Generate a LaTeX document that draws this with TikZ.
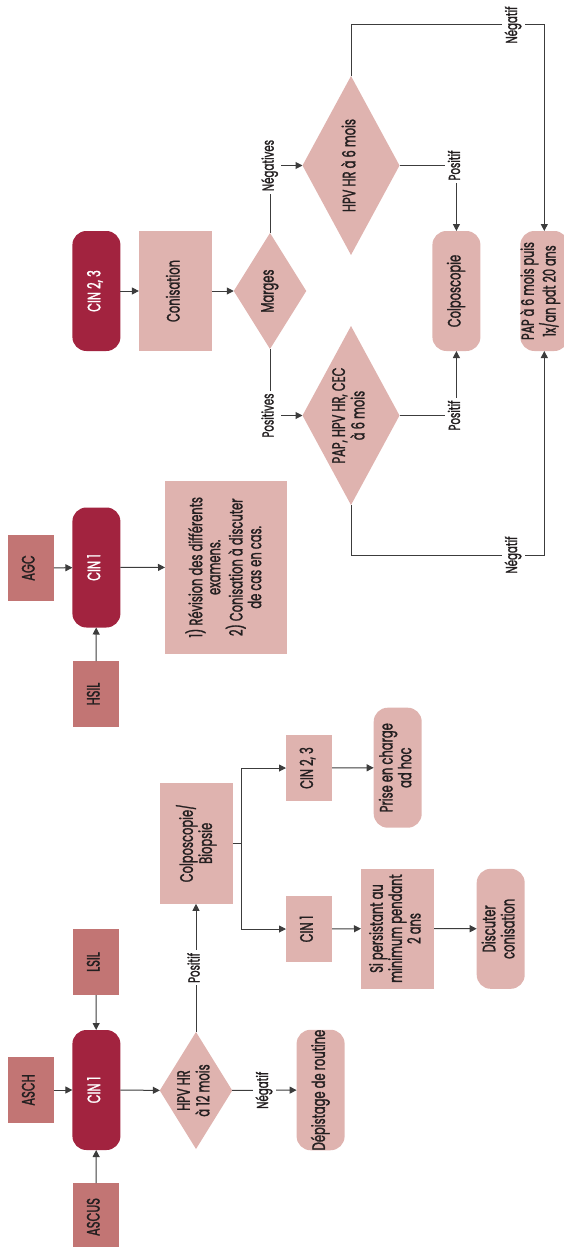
\documentclass[tikz,border=0pt]{standalone}
\usepackage{fontspec}
\setmainfont{Poppins}[FakeStretch=0.64, FakeBold=1.4]
\usetikzlibrary{shapes.geometric,arrows.meta}
\definecolor{cinred}{HTML}{A2233F}
\definecolor{pinkbox}{HTML}{DFB3AF}
\definecolor{rosebox}{HTML}{C27574}
\definecolor{linegray}{HTML}{3C3C3C}
\definecolor{txtdark}{HTML}{231F20}
\newcommand{\vt}[1]{\rotatebox{90}{\begin{tabular}{@{}c@{}}#1\end{tabular}}}
\tikzset{
  base/.style={inner sep=0pt, outer sep=0pt, text=txtdark,
    font=\fontsize{18}{18}\selectfont},
  darkbox/.style={base, rectangle, rounded corners=14pt, fill=cinred, text=white,
    minimum width=48, minimum height=120},
  rosesq/.style={base, rectangle, fill=rosebox, minimum width=46, minimum height=66},
  pinksq/.style={base, rectangle, fill=pinkbox},
  pinkround/.style={base, rectangle, rounded corners=14pt, fill=pinkbox,
    minimum width=48, minimum height=120},
  decision/.style={base, diamond, fill=pinkbox},
  dtext/.style={base},
  arr/.style={draw=linegray, line width=1pt, -{Triangle[length=7pt,width=7pt]}},
  lbl/.style={fill=white, inner sep=2.5pt, text=txtdark,
    font=\fontsize{16}{17}\selectfont}
}
\begin{document}
\begin{tikzpicture}[x=1pt, y=-1pt]
\useasboundingbox (0,0) rectangle (563,1247);

% ---------- ASCUS / ASCH / LSIL pathway ----------
\node[rosesq] (asch) at (30.9,1090) {\vt{ASCH}};
\node[darkbox] (cinA) at (96.4,1090) {\vt{CIN 1}};
\node[rosesq] (lsil) at (95.9,962) {\vt{LSIL}};
\node[rosesq, minimum height=68] (ascus) at (95.9,1217) {\vt{ASCUS}};
\node[decision, minimum width=72.5, minimum height=117] (hpv12) at (196,1090.5) {};
\node[dtext] (hpv12t) at (hpv12) {\vt{HPV HR\\ à 12 mois}};
\node[pinkround] (depist) at (320.6,1090) {\vt{Dépistage de routine}};
\node[pinksq, minimum width=73, minimum height=121] (colbio) at (196.6,843.3) {\vt{Colposcopie/\\Biopsie}};
\node[pinksq, minimum width=46, minimum height=66] (cin23s) at (309,768) {\vt{CIN 2, 3}};
\node[pinksq, minimum width=46, minimum height=66] (cin1s) at (309,929) {\vt{CIN 1}};
\node[pinkround] (prise) at (397.7,767.7) {\vt{Prise en charge\\ ad hoc}};
\node[pinksq, minimum width=73, minimum height=120] (sipers) at (397.5,928.5) {\vt{Si persistant au\\ minimum pendant\\ 2 ans}};
\node[pinkround] (discut) at (500.7,928.8) {\vt{Discuter\\ conisation}};

\draw[arr] (asch) -- (cinA);
\draw[arr] (lsil) -- (cinA);
\draw[arr] (ascus) -- (cinA);
\draw[arr] (cinA) -- (hpv12);
\draw[arr] (hpv12) -- node[lbl] {\vt{Négatif}} (depist);
\draw[arr] (hpv12.north) -- node[lbl] {\vt{Positif}} (hpv12.north |- colbio.south);
\draw[arr] (colbio.east) -- ++(8,0) |- (cin23s.west);
\draw[arr] (colbio.east) -- ++(8,0) |- (cin1s.west);
\draw[arr] (cin23s) -- (prise);
\draw[arr] (cin1s) -- (sipers);
\draw[arr] (sipers) -- (discut);

% ---------- AGC / HSIL pathway ----------
\node[rosesq] (agc) at (30.9,568) {\vt{AGC}};
\node[darkbox] (cinB) at (96.4,567.5) {\vt{CIN 1}};
\node[rosesq] (hsil) at (95.9,694) {\vt{HSIL}};
\node[pinksq, minimum width=122, minimum height=173] (revis) at (226,567.3)
  {\vt{1) Révision des différents\\ examens.\\ 2) Conisation à discuter\\ de cas en cas.}};

\draw[arr] (agc) -- (cinB);
\draw[arr] (hsil) -- (cinB);
\draw[arr] (cinB) -- (revis);

% ---------- CIN 2, 3 pathway ----------
\node[darkbox] (cinC) at (96.4,291) {\vt{CIN 2, 3}};
\node[pinksq, minimum width=73, minimum height=120] (conis) at (175.4,291) {\vt{Conisation}};
\node[decision, minimum width=72.5, minimum height=116] (marges) at (270,291) {};
\node[dtext] (margest) at (marges) {\vt{Marges}};
\node[decision, minimum width=97, minimum height=179] (hpv6) at (351,165.5) {};
\node[dtext] (hpv6t) at (hpv6) {\vt{HPV HR à 6 mois}};
\node[decision, minimum width=97, minimum height=179] (papdia) at (351,415.5) {};
\node[dtext] (papdiat) at (papdia) {\vt{PAP, HPV HR, CEC\\ à 6 mois}};
\node[pinkround] (colpo) at (456.4,291) {\vt{Colposcopie}};
\node[pinkround] (pap6) at (544.3,291) {};
\node[dtext, font=\fontsize{17.5}{17.5}\selectfont] (pap6t) at (540.5,291) {\vt{PAP à 6 mois puis\\ 1x/an pdt 20 ans}};

\draw[arr] (cinC) -- (conis);
\draw[arr] (conis) -- (marges);
\draw[arr] (marges.north) |- node[lbl] {\vt{Négatives}} (hpv6.west);
\draw[arr] (marges.south) |- node[lbl] {\vt{Positives}} (papdia.west);
\draw[arr] (hpv6.east) -| node[lbl] {\vt{Positif}} (colpo.north);
\draw[arr] (papdia.east) -| node[lbl] {\vt{Positif}} (colpo.south);
\draw[arr] (hpv6.north) -- (hpv6.north |- 0,25) -| node[lbl, pos=0.42] {\vt{Négatif}} (pap6.north);
\draw[arr] (papdia.south) -- (papdia.south |- 0,555) -| node[lbl, pos=0.42] {\vt{Négatif}} (pap6.south);
\end{tikzpicture}
\end{document}
